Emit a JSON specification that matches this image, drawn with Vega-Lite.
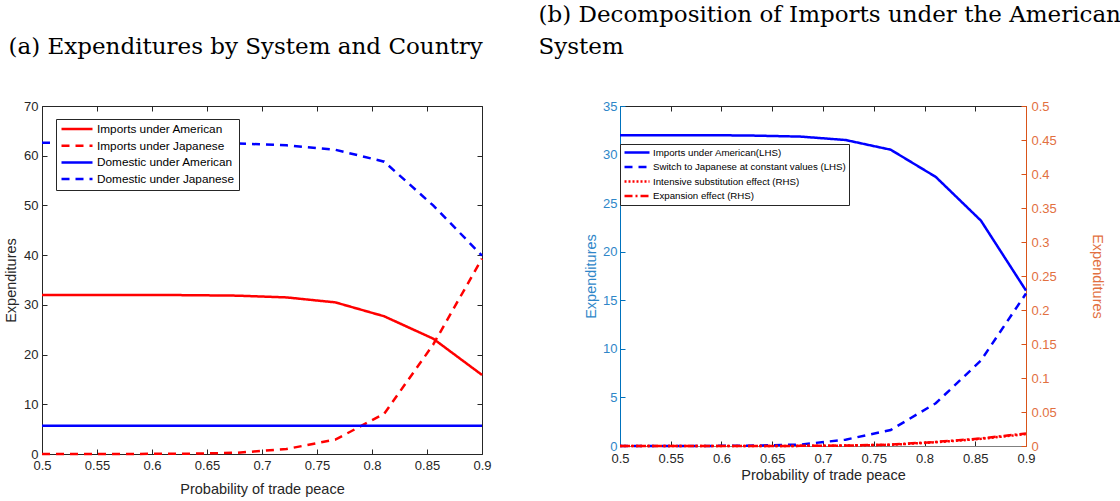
{
  "$schema": "https://vega.github.io/schema/vega-lite/v6.json",
  "padding": {"left": 3, "top": 4, "right": 4, "bottom": 4},
  "bounds": "flush",
  "spacing": 138,
  "datasets": {
    "a": [
      {"x": 0.5, "s": "Imports under American", "v": 32.0},
      {"x": 0.5444, "s": "Imports under American", "v": 32.0},
      {"x": 0.5889, "s": "Imports under American", "v": 32.0},
      {"x": 0.6333, "s": "Imports under American", "v": 31.95},
      {"x": 0.6778, "s": "Imports under American", "v": 31.85},
      {"x": 0.7222, "s": "Imports under American", "v": 31.5},
      {"x": 0.7667, "s": "Imports under American", "v": 30.5},
      {"x": 0.8111, "s": "Imports under American", "v": 27.7},
      {"x": 0.8556, "s": "Imports under American", "v": 23.2},
      {"x": 0.9, "s": "Imports under American", "v": 15.9},
      {"x": 0.5, "s": "Imports under Japanese", "v": 0.0},
      {"x": 0.5444, "s": "Imports under Japanese", "v": 0.0},
      {"x": 0.5889, "s": "Imports under Japanese", "v": 0.02},
      {"x": 0.6333, "s": "Imports under Japanese", "v": 0.06},
      {"x": 0.6778, "s": "Imports under Japanese", "v": 0.25},
      {"x": 0.7222, "s": "Imports under Japanese", "v": 1.0},
      {"x": 0.7667, "s": "Imports under Japanese", "v": 2.9},
      {"x": 0.8111, "s": "Imports under Japanese", "v": 8.1},
      {"x": 0.8556, "s": "Imports under Japanese", "v": 22.0},
      {"x": 0.9, "s": "Imports under Japanese", "v": 39.3},
      {"x": 0.5, "s": "Domestic under American", "v": 5.7},
      {"x": 0.5444, "s": "Domestic under American", "v": 5.7},
      {"x": 0.5889, "s": "Domestic under American", "v": 5.7},
      {"x": 0.6333, "s": "Domestic under American", "v": 5.7},
      {"x": 0.6778, "s": "Domestic under American", "v": 5.7},
      {"x": 0.7222, "s": "Domestic under American", "v": 5.7},
      {"x": 0.7667, "s": "Domestic under American", "v": 5.7},
      {"x": 0.8111, "s": "Domestic under American", "v": 5.7},
      {"x": 0.8556, "s": "Domestic under American", "v": 5.7},
      {"x": 0.9, "s": "Domestic under American", "v": 5.7},
      {"x": 0.5, "s": "Domestic under Japanese", "v": 62.6},
      {"x": 0.5444, "s": "Domestic under Japanese", "v": 62.6},
      {"x": 0.5889, "s": "Domestic under Japanese", "v": 62.6},
      {"x": 0.6333, "s": "Domestic under Japanese", "v": 62.55},
      {"x": 0.6778, "s": "Domestic under Japanese", "v": 62.45},
      {"x": 0.7222, "s": "Domestic under Japanese", "v": 62.1},
      {"x": 0.7667, "s": "Domestic under Japanese", "v": 61.2},
      {"x": 0.8111, "s": "Domestic under Japanese", "v": 58.8},
      {"x": 0.8556, "s": "Domestic under Japanese", "v": 50.0},
      {"x": 0.9, "s": "Domestic under Japanese", "v": 39.9}
    ],
    "b": [
      {"x": 0.5, "s": "Imports under American(LHS)", "side": "L", "v": 32.0},
      {"x": 0.5444, "s": "Imports under American(LHS)", "side": "L", "v": 32.0},
      {"x": 0.5889, "s": "Imports under American(LHS)", "side": "L", "v": 32.0},
      {"x": 0.6333, "s": "Imports under American(LHS)", "side": "L", "v": 31.95},
      {"x": 0.6778, "s": "Imports under American(LHS)", "side": "L", "v": 31.85},
      {"x": 0.7222, "s": "Imports under American(LHS)", "side": "L", "v": 31.5},
      {"x": 0.7667, "s": "Imports under American(LHS)", "side": "L", "v": 30.5},
      {"x": 0.8111, "s": "Imports under American(LHS)", "side": "L", "v": 27.7},
      {"x": 0.8556, "s": "Imports under American(LHS)", "side": "L", "v": 23.2},
      {"x": 0.9, "s": "Imports under American(LHS)", "side": "L", "v": 16.0},
      {"x": 0.5, "s": "Switch to Japanese at constant values (LHS)", "side": "L", "v": 0.0},
      {"x": 0.5444, "s": "Switch to Japanese at constant values (LHS)", "side": "L", "v": 0.0},
      {"x": 0.5889, "s": "Switch to Japanese at constant values (LHS)", "side": "L", "v": 0.01},
      {"x": 0.6333, "s": "Switch to Japanese at constant values (LHS)", "side": "L", "v": 0.04},
      {"x": 0.6778, "s": "Switch to Japanese at constant values (LHS)", "side": "L", "v": 0.15},
      {"x": 0.7222, "s": "Switch to Japanese at constant values (LHS)", "side": "L", "v": 0.65},
      {"x": 0.7667, "s": "Switch to Japanese at constant values (LHS)", "side": "L", "v": 1.65},
      {"x": 0.8111, "s": "Switch to Japanese at constant values (LHS)", "side": "L", "v": 4.4},
      {"x": 0.8556, "s": "Switch to Japanese at constant values (LHS)", "side": "L", "v": 8.8},
      {"x": 0.9, "s": "Switch to Japanese at constant values (LHS)", "side": "L", "v": 15.7},
      {"x": 0.5, "s": "Intensive substitution effect (RHS)", "side": "R", "v": 0.0},
      {"x": 0.5444, "s": "Intensive substitution effect (RHS)", "side": "R", "v": 0.0},
      {"x": 0.5889, "s": "Intensive substitution effect (RHS)", "side": "R", "v": 0.0},
      {"x": 0.6333, "s": "Intensive substitution effect (RHS)", "side": "R", "v": 0.0},
      {"x": 0.6778, "s": "Intensive substitution effect (RHS)", "side": "R", "v": 0.0002},
      {"x": 0.7222, "s": "Intensive substitution effect (RHS)", "side": "R", "v": 0.0006},
      {"x": 0.7667, "s": "Intensive substitution effect (RHS)", "side": "R", "v": 0.0018},
      {"x": 0.8111, "s": "Intensive substitution effect (RHS)", "side": "R", "v": 0.0055},
      {"x": 0.8556, "s": "Intensive substitution effect (RHS)", "side": "R", "v": 0.0105},
      {"x": 0.9, "s": "Intensive substitution effect (RHS)", "side": "R", "v": 0.0175},
      {"x": 0.5, "s": "Expansion effect (RHS)", "side": "R", "v": 0.0},
      {"x": 0.5444, "s": "Expansion effect (RHS)", "side": "R", "v": 0.0},
      {"x": 0.5889, "s": "Expansion effect (RHS)", "side": "R", "v": 0.0},
      {"x": 0.6333, "s": "Expansion effect (RHS)", "side": "R", "v": 0.0},
      {"x": 0.6778, "s": "Expansion effect (RHS)", "side": "R", "v": 0.0002},
      {"x": 0.7222, "s": "Expansion effect (RHS)", "side": "R", "v": 0.0007},
      {"x": 0.7667, "s": "Expansion effect (RHS)", "side": "R", "v": 0.002},
      {"x": 0.8111, "s": "Expansion effect (RHS)", "side": "R", "v": 0.006},
      {"x": 0.8556, "s": "Expansion effect (RHS)", "side": "R", "v": 0.011},
      {"x": 0.9, "s": "Expansion effect (RHS)", "side": "R", "v": 0.0185}
    ]
  },
  "hconcat": [
    {
      "width": 440,
      "height": 348,
      "title": {"text": "(a) Expenditures by System and Country", "anchor": "start", "frame": "bounds", "offset": 41, "dx": 5},
      "data": {"name": "a"},
      "layer": [
        {
          "mark": {"type": "line", "strokeWidth": 2.5},
          "encoding": {
            "x": {"field": "x", "type": "quantitative", "scale": {"domain": [0.5, 0.9], "nice": false, "zero": false},
                  "axis": {"values": [0.5, 0.55, 0.6, 0.65, 0.7, 0.75, 0.8, 0.85, 0.9], "format": "~g", "title": "Probability of trade peace", "labelPadding": 10, "titlePadding": 10}},
            "y": {"field": "v", "type": "quantitative", "scale": {"domain": [0, 70], "nice": false},
                  "axis": {"values": [0, 10, 20, 30, 40, 50, 60, 70], "title": "Expenditures", "labelPadding": 9, "titlePadding": 5}},
            "color": {"field": "s", "type": "nominal",
                      "scale": {"domain": ["Imports under American", "Imports under Japanese", "Domestic under American", "Domestic under Japanese"], "range": ["#ff0000", "#ff0000", "#0000ff", "#0000ff"]},
                      "legend": {"title": null, "orient": "none", "legendX": 14, "legendY": 13, "symbolType": "stroke", "symbolSize": 961, "symbolStrokeWidth": 2.5, "labelFontSize": 11.8, "clipHeight": 12, "rowPadding": 3.7, "padding": 4, "labelOffset": 3}},
            "strokeDash": {"field": "s", "type": "nominal",
                      "scale": {"domain": ["Imports under American", "Imports under Japanese", "Domestic under American", "Domestic under Japanese"], "range": [[1, 0], [8, 6], [1, 0], [8, 6]]},
                      "legend": {"title": null, "orient": "none", "legendX": 14, "legendY": 13, "symbolType": "stroke", "symbolSize": 961, "symbolStrokeWidth": 2.5, "labelFontSize": 11.8, "clipHeight": 12, "rowPadding": 3.7, "padding": 4, "labelOffset": 3}}
          }
        },
        {
          "mark": {"type": "line", "opacity": 0},
          "encoding": {
            "x": {"field": "x", "type": "quantitative", "scale": {"domain": [0.5, 0.9], "nice": false, "zero": false},
                  "axis": {"orient": "top", "labels": false, "title": null, "values": [0.5, 0.55, 0.6, 0.65, 0.7, 0.75, 0.8, 0.85, 0.9]}},
            "y": {"field": "v", "type": "quantitative", "scale": {"domain": [0, 70], "nice": false},
                  "axis": {"orient": "right", "labels": false, "title": null, "values": [0, 10, 20, 30, 40, 50, 60, 70]}}
          }
        }
      ],
      "resolve": {"scale": {"x": "independent", "y": "independent"}}
    },
    {
      "width": 406,
      "height": 340,
      "title": {"text": ["(b) Decomposition of Imports under the American", "System"], "anchor": "start", "frame": "bounds", "offset": 41, "dx": -45, "lineHeight": 32},
      "data": {"name": "b"},
      "layer": [
        {
          "transform": [{"filter": "datum.side == 'L'"}],
          "mark": {"type": "line", "strokeWidth": 2.5},
          "encoding": {
            "x": {"field": "x", "type": "quantitative", "scale": {"domain": [0.5, 0.9], "nice": false, "zero": false},
                  "axis": {"values": [0.5, 0.55, 0.6, 0.65, 0.7, 0.75, 0.8, 0.85, 0.9], "format": "~g", "title": "Probability of trade peace", "labelPadding": 11, "titlePadding": 3, "domainColor": "#808080"}},
            "y": {"field": "v", "type": "quantitative", "scale": {"domain": [0, 35], "nice": false},
                  "axis": {"values": [0, 5, 10, 15, 20, 25, 30, 35], "title": "Expenditures", "labelPadding": 8, "titlePadding": 4, "domainColor": "#0072BD", "tickColor": "#0072BD", "labelColor": "#2E86C8", "titleColor": "#2E86C8"}},
            "color": {"field": "s", "type": "nominal",
                      "scale": {"domain": ["Imports under American(LHS)", "Switch to Japanese at constant values (LHS)", "Intensive substitution effect (RHS)", "Expansion effect (RHS)"], "range": ["#0000ff", "#0000ff", "#ff0000", "#ff0000"]},
                      "legend": {"title": null, "orient": "none", "legendX": 0, "legendY": 38, "symbolType": "stroke", "symbolSize": 625, "symbolStrokeWidth": 2.5, "labelFontSize": 9.7, "clipHeight": 11, "rowPadding": 3.5, "padding": 3, "labelOffset": 2}},
            "strokeDash": {"field": "s", "type": "nominal",
                      "scale": {"domain": ["Imports under American(LHS)", "Switch to Japanese at constant values (LHS)", "Intensive substitution effect (RHS)", "Expansion effect (RHS)"], "range": [[1, 0], [8, 6], [2, 2], [8, 3, 2, 3]]},
                      "legend": {"title": null, "orient": "none", "legendX": 0, "legendY": 38, "symbolType": "stroke", "symbolSize": 625, "symbolStrokeWidth": 2.5, "labelFontSize": 9.7, "clipHeight": 11, "rowPadding": 3.5, "padding": 3, "labelOffset": 2}}
          }
        },
        {
          "transform": [{"filter": "datum.side == 'R'"}],
          "mark": {"type": "line", "strokeWidth": 2.5},
          "encoding": {
            "x": {"field": "x", "type": "quantitative", "scale": {"domain": [0.5, 0.9], "nice": false, "zero": false}, "axis": null},
            "y": {"field": "v", "type": "quantitative", "scale": {"domain": [0, 0.5], "nice": false},
                  "axis": {"orient": "right", "values": [0, 0.05, 0.1, 0.15, 0.2, 0.25, 0.3, 0.35, 0.4, 0.45, 0.5], "format": "~g", "title": "Expenditures", "labelPadding": 10, "titlePadding": 33, "domainColor": "#D95319", "tickColor": "#D95319", "labelColor": "#E2703F", "titleColor": "#E2703F"}},
            "color": {"field": "s", "type": "nominal"},
            "strokeDash": {"field": "s", "type": "nominal"}
          }
        },
        {
          "mark": {"type": "line", "opacity": 0},
          "encoding": {
            "x": {"field": "x", "type": "quantitative", "scale": {"domain": [0.5, 0.9], "nice": false, "zero": false},
                  "axis": {"orient": "top", "labels": false, "title": null, "values": [0.5, 0.55, 0.6, 0.65, 0.7, 0.75, 0.8, 0.85, 0.9]}},
            "y": {"field": "v", "type": "quantitative", "scale": {"domain": [0, 35], "nice": false}, "axis": null}
          }
        }
      ],
      "resolve": {"scale": {"x": "independent", "y": "independent"}}
    }
  ],
  "resolve": {"scale": {"color": "independent", "strokeDash": "independent"}},
  "config": {
    "font": "Liberation Sans",
    "view": {"stroke": null},
    "axis": {"grid": false, "labelFont": "Liberation Sans", "labelFontSize": 13, "titleFont": "Liberation Sans", "titleFontSize": 14.5, "titleFontWeight": "normal", "domainColor": "#262626", "tickColor": "#262626", "labelColor": "#262626", "titleColor": "#262626", "tickSize": -5, "domainWidth": 1, "labelFlush": false},
    "legend": {"labelFont": "Liberation Sans", "labelColor": "#000000", "fillColor": "#ffffff", "strokeColor": "#262626", "labelLimit": 400},
    "title": {"font": "DejaVu Serif", "fontSize": 23, "fontWeight": "normal", "color": "#000000"}
  }
}
